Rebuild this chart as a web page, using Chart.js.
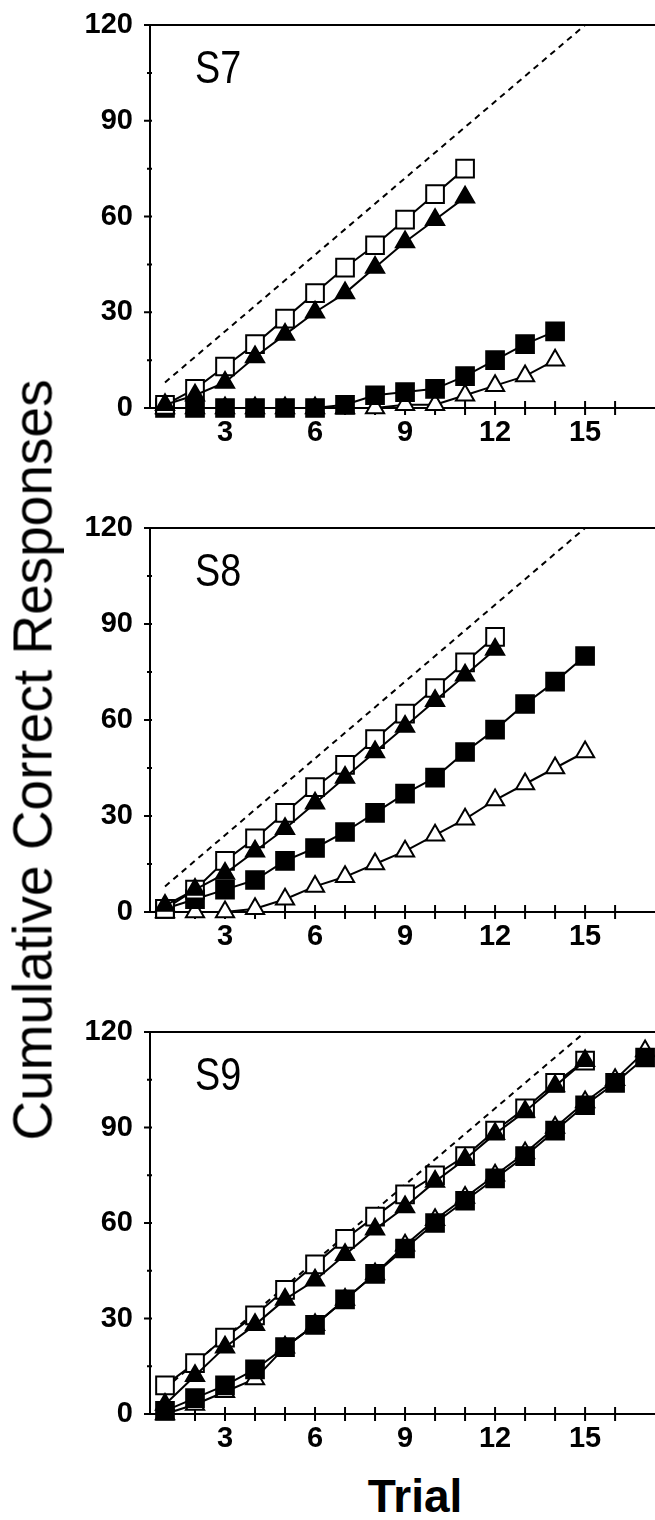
<!DOCTYPE html>
<html>
<head>
<meta charset="utf-8">
<script src="https://cdn.jsdelivr.net/npm/chart.js@4.4.1/dist/chart.umd.min.js"></script>
<style>
  body { margin: 0; background: #fff; width: 655px; height: 1520px; position: relative; overflow: hidden; }
  canvas { position: absolute; left: 0; }
  .panel-label {
    position: absolute; left: 195px; color: #000; line-height: 1;
    transform-origin: 0 0; transform: scaleX(0.82);
    font-family: 'Liberation Sans', Arial, sans-serif; font-size: 46px;
  }
  #ytitle {
    position: absolute; left: 33px; top: 760px; white-space: nowrap; line-height: 1;
    transform: translate(-50%, -50%) rotate(-90deg);
    font-family: 'Liberation Sans', Arial, sans-serif; font-size: 55px; color: #000;
  }
  #xtitle {
    position: absolute; left: 415px; top: 1473px; transform: translateX(-50%);
    white-space: nowrap; line-height: 1;
    font-family: 'Liberation Sans', Arial, sans-serif; font-weight: bold; font-size: 46px; color: #000;
  }
</style>
</head>
<body>
<canvas id="c7" width="655" height="458" style="top:0px"></canvas>
<canvas id="c8" width="655" height="462" style="top:500px"></canvas>
<canvas id="c9" width="655" height="460" style="top:1004px"></canvas>
<div class="panel-label" style="top:44px">S7</div>
<div class="panel-label" style="top:547px">S8</div>
<div class="panel-label" style="top:1051px">S9</div>
<div id="ytitle">Cumulative Correct Responses</div>
<div id="xtitle">Trial</div>
<script>
// trial numbers (x values)
const trials = [1, 2, 3, 4, 5, 6, 7, 8, 9, 10, 11, 12, 13, 14, 15, 16, 17];
// dashed reference line
const chanceX = [1, 15];
const chanceY = [8, 120];

// S7
const s7OpenSq  = [1, 6, 13, 20, 28, 36, 44, 51, 59, 67, 75];
const s7FillTri = [1, 4, 8, 16, 23, 30, 36, 44, 52, 59, 66];
const s7FillSq  = [0, 0, 0, 0, 0, 0, 1, 4, 5, 6, 10, 15, 20, 24];
const s7OpenTri = [0, 0, 0, 0, 0, 0, 0, 0, 1, 1, 4, 7, 10, 15];

// S8
const s8OpenSq  = [1, 7, 16, 23, 31, 39, 46, 54, 62, 70, 78, 86];
const s8FillTri = [2, 7, 12, 19, 26, 34, 42, 50, 58, 66, 74, 82];
const s8FillSq  = [1, 4, 7, 10, 16, 20, 25, 31, 37, 42, 50, 57, 65, 72, 80];
const s8OpenTri = [0, 0, 0, 1, 4, 8, 11, 15, 19, 24, 29, 35, 40, 45, 50];

// S9
const s9OpenSq  = [9, 16, 24, 31, 39, 47, 55, 62, 69, 75, 81, 89, 96, 104, 111];
const s9FillTri = [3, 12, 21, 28, 36, 42, 50, 58, 65, 73, 80, 88, 95, 103, 111];
const s9FillSq  = [1, 5, 9, 14, 21, 28, 36, 44, 52, 60, 67, 74, 81, 89, 97, 104, 112];
const s9OpenTri = [0, 3, 7, 11, 21, 28, 36, 44, 53, 61, 68, 75, 82, 90, 98, 105, 114];

const yTicks = { min: 0, max: 120, step: 15, labelEvery: 30 };
const xTicks = { min: 0.5, max: 17.33, labelEvery: 3 };

const tickFont = { family: "'Liberation Sans', Arial, sans-serif", size: 29, weight: 'bold' };

const pts = (xs, ys) => ys.map((v, i) => ({ x: xs[i], y: v }));

function series(vals, style, radius, fill) {
  return {
    data: pts(trials, vals),
    borderColor: '#000', borderWidth: 2,
    pointStyle: style, pointRadius: radius, pointHoverRadius: radius,
    pointBorderColor: '#000', pointBorderWidth: 2,
    pointBackgroundColor: fill, backgroundColor: fill,
    tension: 0, clip: false
  };
}

// tick marks crossing the axes + top frame line
const frame = {
  id: 'frame',
  beforeDatasetsDraw(chart) {
    const { ctx, chartArea: a, scales: { x, y } } = chart;
    ctx.save();
    ctx.strokeStyle = '#000';
    ctx.lineWidth = 2;
    ctx.beginPath();
    ctx.moveTo(a.left - 4, a.top); ctx.lineTo(a.right, a.top);
    x.ticks.forEach(t => {
      if (!Number.isInteger(t.value)) return;
      const px = x.getPixelForValue(t.value);
      ctx.moveTo(px, a.bottom - 7); ctx.lineTo(px, a.bottom + 7);
    });
    y.ticks.forEach(t => {
      const py = y.getPixelForValue(t.value);
      const len = t.value % yTicks.labelEvery === 0 ? 6 : 3;
      ctx.moveTo(a.left - len, py); ctx.lineTo(a.left + 2, py);
    });
    ctx.stroke();
    ctx.restore();
  }
};

const noPad = s => { s.paddingLeft = 0; s.paddingRight = 0; s.paddingTop = 0; s.paddingBottom = 0; };

function panel(id, padTop, openSq, fillTri, fillSq, openTri) {
  new Chart(document.getElementById(id), {
    type: 'line',
    data: {
      datasets: [
        series(fillTri, 'triangle', 10.5, '#000'),
        series(openSq, 'rect', 12.5, '#fff'),
        series(fillSq, 'rect', 12.5, '#000'),
        series(openTri, 'triangle', 10.5, '#fff'),
        {
          data: pts(chanceX, chanceY),
          borderColor: '#000', borderWidth: 2, borderDash: [6, 5],
          pointRadius: 0, tension: 0, clip: false
        }
      ]
    },
    options: {
      responsive: false,
      animation: false,
      events: [],
      layout: { autoPadding: false, padding: { top: padTop, left: 0, right: 0, bottom: 0 } },
      plugins: { legend: { display: false }, tooltip: { enabled: false } },
      scales: {
        x: {
          type: 'linear', min: xTicks.min, max: xTicks.max,
          grid: { display: false, drawTicks: false },
          border: { display: true, color: '#000', width: 2 },
          afterFit: s => { s.height = 50; noPad(s); },
          ticks: {
            stepSize: 1, autoSkip: false, maxRotation: 0, padding: 8,
            color: '#000', font: tickFont,
            callback: v => (v > 0 && v % xTicks.labelEvery === 0 ? v : '')
          }
        },
        y: {
          min: yTicks.min, max: yTicks.max,
          grid: { display: false, drawTicks: false },
          border: { display: true, color: '#000', width: 2 },
          afterFit: s => { s.width = 150; noPad(s); },
          ticks: {
            stepSize: yTicks.step, autoSkip: false, padding: 17,
            color: '#000', font: tickFont,
            callback: v => (v % yTicks.labelEvery === 0 ? v : '')
          }
        }
      }
    },
    plugins: [frame]
  });
}

panel('c7', 25, s7OpenSq, s7FillTri, s7FillSq, s7OpenTri);
panel('c8', 28, s8OpenSq, s8FillTri, s8FillSq, s8OpenTri);
panel('c9', 28, s9OpenSq, s9FillTri, s9FillSq, s9OpenTri);
</script>
</body>
</html>
